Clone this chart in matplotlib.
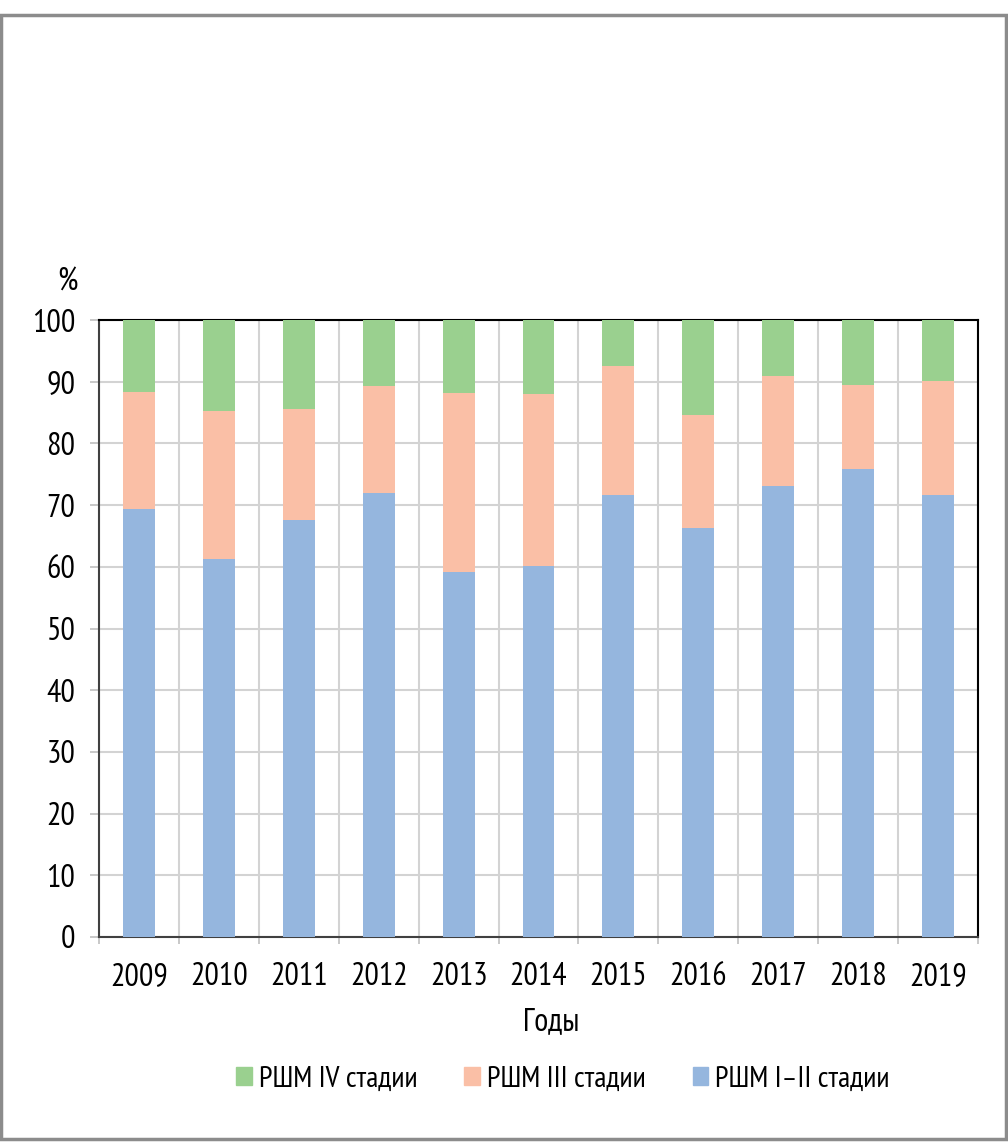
import matplotlib
matplotlib.use("Agg")
import matplotlib.pyplot as plt
from matplotlib import font_manager as fm
from matplotlib.patches import Patch
import numpy as np

years = ["2009", "2010", "2011", "2012", "2013", "2014", "2015", "2016", "2017", "2018", "2019"]
stage_1_2 = [69.4, 61.2, 67.6, 72.0, 59.2, 60.2, 71.6, 66.3, 73.1, 75.9, 71.6]
stage_3 = [18.9, 24.0, 17.9, 17.3, 29.0, 27.8, 20.9, 18.3, 17.8, 13.6, 18.5]
stage_4 = [11.7, 14.8, 14.5, 10.7, 11.8, 12.0, 7.5, 15.4, 9.1, 10.5, 9.9]
labels = ["РШМ IV стадии", "РШМ III стадии", "РШМ I–II стадии"]
yticks = [0, 10, 20, 30, 40, 50, 60, 70, 80, 90, 100]

c_blue = "#95B6DE"
c_orange = "#FABFA6"
c_green = "#9AD08F"

available = set(f.name for f in fm.fontManager.ttflist)
candidates = ['PT Sans Narrow', 'Fira Sans Extra Condensed', 'Roboto Condensed',
              'Fira Sans Condensed', 'Liberation Sans Narrow', 'Roboto', 'DejaVu Sans']
chosen = [c for c in candidates if c in available][0]
plt.rcParams['font.family'] = [chosen, 'DejaVu Sans']

FS = 23
LFS = 21.5

fig = plt.figure(figsize=(10.08, 11.42), dpi=100)
ax = fig.add_axes([99/1008, 1-937/1142, 879/1008, 617/1142])

x = np.arange(len(years))
w = 0.4
b1 = np.array(stage_1_2)
b3 = np.array(stage_3)
b4 = np.array(stage_4)
ax.bar(x, b1, w, color=c_blue, zorder=3)
ax.bar(x, b3, w, bottom=b1, color=c_orange, zorder=3)
ax.bar(x, b4, w, bottom=b1 + b3, color=c_green, zorder=3)

ax.set_xlim(-0.5, len(years) - 0.5)
ax.set_ylim(0, 100)
ax.set_yticks(yticks)
ax.set_yticklabels([str(v) for v in yticks], fontsize=FS)
ax.set_xticks(x)
ax.set_xticklabels(years, fontsize=FS)
ax.set_xticks(np.arange(-0.5, len(years)), minor=True)

ax.tick_params(axis='x', which='major', length=0, pad=18)
ax.tick_params(axis='x', which='minor', length=5, color='#BFBFBF', width=1.2, direction='out')
ax.tick_params(axis='y', which='major', length=6.5, color='#BFBFBF', width=1.2, pad=10.5)

ax.grid(True, axis='y', which='major', color='#D3D3D3', linewidth=1.5, zorder=0)
ax.grid(True, axis='x', which='minor', color='#D3D3D3', linewidth=1.5, zorder=0)

ax.spines['top'].set_color('black')
ax.spines['right'].set_color('black')
ax.spines['left'].set_color('#404040')
ax.spines['bottom'].set_color('#404040')
for s in ax.spines.values():
    s.set_linewidth(1.5)

fig.text(67/1008, 1-283/1142, "%", fontsize=FS, ha='center', va='center')
fig.text(551/1008, 1-1022/1142, "Годы", fontsize=FS, ha='center', va='center')

handles = [Patch(color=c_green), Patch(color=c_orange), Patch(color=c_blue)]
fig.legend(handles, labels, loc='center', bbox_to_anchor=(563/1008, 1-1079/1142),
           ncol=3, frameon=False, fontsize=LFS, handlelength=0.53, handleheight=0.53,
           handletextpad=0.23, columnspacing=1.57)

border = plt.Rectangle((1/1008, 3/1142), 1005/1008, 1124/1142, transform=fig.transFigure,
                       fill=False, edgecolor='#8C8C8C', linewidth=2.5)
fig.patches.append(border)

fig.savefig("out.png", dpi=100)
